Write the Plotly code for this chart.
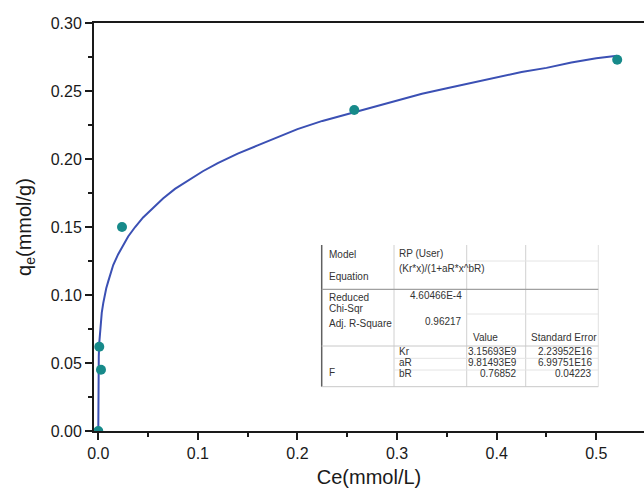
import plotly.graph_objects as go

# ---- data ----
ce_points = [0.0, 0.001, 0.0027, 0.0238, 0.257, 0.521]
qe_points = [0.0, 0.062, 0.045, 0.150, 0.236, 0.273]

# fitted curve (Redlich-Peterson)
ce_fit = [0.0, 0.00002, 0.0001, 0.0002, 0.0005, 0.001, 0.002, 0.003, 0.0035, 0.005,
          0.0065, 0.008, 0.01, 0.012, 0.015, 0.02, 0.025, 0.03, 0.037, 0.045,
          0.055, 0.065, 0.077, 0.09, 0.105, 0.12, 0.14, 0.16, 0.18, 0.2,
          0.225, 0.25, 0.275, 0.3, 0.325, 0.35, 0.375, 0.4, 0.425, 0.45,
          0.475, 0.5, 0.521]
qe_fit = [0.0, 0.026, 0.038, 0.045, 0.055, 0.065, 0.076, 0.084, 0.087, 0.094,
          0.100, 0.105, 0.110, 0.115, 0.122, 0.130, 0.137, 0.143, 0.150, 0.157,
          0.164, 0.171, 0.178, 0.184, 0.191, 0.197, 0.204, 0.210, 0.216, 0.222,
          0.228, 0.233, 0.238, 0.243, 0.248, 0.252, 0.256, 0.260, 0.264, 0.267,
          0.271, 0.274, 0.276]

x_ticks = [0.0, 0.1, 0.2, 0.3, 0.4, 0.5]
y_ticks = [0.00, 0.05, 0.10, 0.15, 0.20, 0.25, 0.30]

table_rows = [
    ("Model", "RP (User)"),
    ("Equation", "(Kr*x)/(1+aR*x^bR)"),
    ("Reduced Chi-Sqr", "4.60466E-4"),
    ("Adj. R-Square", "0.96217"),
]
param_names = ["Kr", "aR", "bR"]
param_values = ["3.15693E9", "9.81493E9", "0.76852"]
param_errors = ["2.23952E16", "6.99751E16", "0.04223"]

# ---- layout geometry (pixels) ----
W, H = 644, 488
L, R, T, B = 94, 644, 23, 431


def px(x):
    return (x - L) / (R - L)


def py(y):
    return (B - y) / (B - T)


FONT = "Liberation Sans, Arial, sans-serif"

fig = go.Figure()
fig.add_trace(go.Scatter(x=ce_fit, y=qe_fit, mode="lines",
                         line=dict(color="#3b50b4", width=2), hoverinfo="skip"))
fig.add_trace(go.Scatter(x=ce_points, y=qe_points, mode="markers",
                         marker=dict(color="#178a8a", size=10)))

shapes = []
annotations = []

# table background
shapes.append(dict(type="rect", xref="paper", yref="paper",
                   x0=px(321.7), x1=px(598.3), y0=py(386.7), y1=py(245),
                   fillcolor="white", line=dict(width=0), layer="above"))


def hline(y, x0, x1, color="#d0d0d0", w=1):
    shapes.append(dict(type="line", xref="paper", yref="paper",
                       x0=px(x0), x1=px(x1), y0=py(y), y1=py(y),
                       line=dict(color=color, width=w), layer="above"))


def vline(x, y0, y1, color="#d0d0d0", w=1):
    shapes.append(dict(type="line", xref="paper", yref="paper",
                       x0=px(x), x1=px(x), y0=py(y0), y1=py(y1),
                       line=dict(color=color, width=w), layer="above"))


c0, c1, c2, c3, c4 = 321.7, 394, 466.7, 525.7, 598.3
ytop, ybot = 245, 386.7
vline(c0, ytop, ybot, color="#606060", w=1.5)
vline(c1, ytop, ybot)
vline(c2, ytop, ybot)
vline(c3, ytop, ybot)
vline(c4, ytop, ybot, color="#e0e0e0")
hline(289.3, c0, c4, color="#a0a0a0", w=1.2)
hline(346, c0, c4, color="#c8c8c8")
hline(ybot, c0, c4, color="#c8c8c8")
hline(261, c2, c4, color="#e4e4e4")
hline(314, c2, c4, color="#e4e4e4")
hline(358.3, c1, c4, color="#e4e4e4")
hline(370, c1, c4, color="#e4e4e4")


def txt(x, y, s, anchor="left"):
    annotations.append(dict(x=px(x), y=py(y), xref="paper", yref="paper",
                            text=s, showarrow=False, xanchor=anchor, yanchor="middle",
                            font=dict(family=FONT, size=10, color="#333333")))


lx, vx = 326.5, 397.5
txt(lx, 254, table_rows[0][0])
txt(vx, 253, table_rows[0][1])
txt(lx, 276, table_rows[1][0])
txt(vx, 268, table_rows[1][1])
txt(lx, 297, "Reduced")
txt(lx, 308, "Chi-Sqr")
txt(463.5, 295, table_rows[2][1], "right")
txt(lx, 323, table_rows[3][0])
txt(463.5, 321.5, table_rows[3][1], "right")
txt(471, 337, "Value")
txt(528.5, 337, "Standard Error")
txt(lx, 372.5, "F")
for i, (n, v, e) in enumerate(zip(param_names, param_values, param_errors)):
    yy = 351.5 + i * 11
    txt(vx, yy, n)
    txt(519, yy, v, "right")
    txt(593.5, yy, e, "right")

fig.update_layout(
    width=W, height=H,
    margin=dict(l=L, r=W - R, t=T, b=H - B, pad=0),
    paper_bgcolor="white", plot_bgcolor="white",
    showlegend=False,
    shapes=shapes, annotations=annotations,
    font=dict(family=FONT, color="#1a1a1a"),
    xaxis=dict(
        range=[-0.0043, 0.5479], tickvals=x_ticks, tickformat=".1f",
        ticks="outside", ticklen=7, tickwidth=1.5, tickcolor="#1a1a1a",
        minor=dict(dtick=0.05, ticks="outside", ticklen=4, tickwidth=1.5, tickcolor="#1a1a1a"),
        showline=True, linecolor="#1a1a1a", linewidth=2, mirror=True,
        showgrid=False, zeroline=False,
        tickfont=dict(size=16, family=FONT),
        title=dict(text="Ce(mmol/L)", font=dict(size=20, family=FONT), standoff=12),
    ),
    yaxis=dict(
        range=[0, 0.30], tickvals=y_ticks, tickformat=".2f",
        ticks="outside", ticklen=7, tickwidth=1.5, tickcolor="#1a1a1a",
        minor=dict(dtick=0.025, ticks="outside", ticklen=4, tickwidth=1.5, tickcolor="#1a1a1a"),
        showline=True, linecolor="#1a1a1a", linewidth=2, mirror=False,
        showgrid=False, zeroline=False,
        tickfont=dict(size=16, family=FONT),
        title=dict(text="q<sub>e</sub>(mmol/g)", font=dict(size=20, family=FONT), standoff=14),
    ),
)

fig.write_html("out.html")
